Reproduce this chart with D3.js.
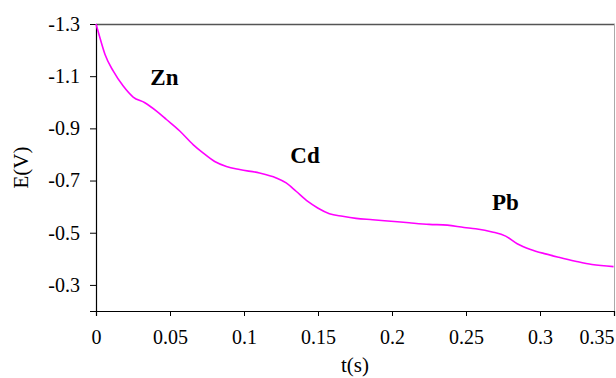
<!DOCTYPE html>
<html>
<head>
<meta charset="utf-8">
<script src="https://cdn.jsdelivr.net/npm/d3@7"></script>
<style>
  body { margin: 0; background: #fff; }
</style>
</head>
<body>
<div id="main"></div>
<script>
// stripping curve
var times = [0, 0.0027, 0.0061, 0.0117, 0.0184, 0.0251, 0.0330, 0.0409, 0.0476, 0.0566,
  0.0656, 0.0723, 0.0802, 0.0881, 0.0970, 0.1105, 0.1218, 0.1285, 0.1352, 0.1431,
  0.1498, 0.1577, 0.1666, 0.1757, 0.1869, 0.1993, 0.2116, 0.2251, 0.2374, 0.2487,
  0.2565, 0.2677, 0.2768, 0.2846, 0.2936, 0.3037, 0.3127, 0.3239, 0.3351, 0.3497];
var potentials = [-1.300, -1.246, -1.183, -1.119, -1.062, -1.020, -0.998, -0.966, -0.934, -0.890,
  -0.838, -0.806, -0.773, -0.754, -0.742, -0.729, -0.710, -0.691, -0.659, -0.620,
  -0.595, -0.573, -0.563, -0.555, -0.550, -0.544, -0.538, -0.532, -0.529, -0.520,
  -0.515, -0.503, -0.487, -0.458, -0.436, -0.419, -0.406, -0.391, -0.378, -0.370];
var xTicks = [0, 0.05, 0.1, 0.15, 0.2, 0.25, 0.3, 0.35];
var yTicks = [-1.3, -1.1, -0.9, -0.7, -0.5, -0.3];
var peakNames = ["Zn", "Cd", "Pb"];
var peakT = [0.0367, 0.1313, 0.2675];
var peakE = [-1.067, -0.768, -0.589];

var serif = "'Liberation Serif'"

var dimensions = {
  width: 616,
  height: 378,
  margin: { top: 24, bottom: 67, right: 1, left: 96 }
}
dimensions.boundedWidth = dimensions.width - dimensions.margin.left - dimensions.margin.right
dimensions.boundedHeight = dimensions.height - dimensions.margin.top - dimensions.margin.bottom

var svg = d3.select("#main")
  .append("svg")
    .attr("width", dimensions.width)
    .attr("height", dimensions.height)

var SVG = svg.append("g")
    .attr("transform", "translate(" + dimensions.margin.left + "," + dimensions.margin.top + ")");

var x = d3.scaleLinear()
  .domain([0, 0.35])
  .range([0, dimensions.boundedWidth - 1]);

// reversed axis: -1.3 at the top
var y = d3.scaleLinear()
  .domain([-1.3, -0.2])
  .range([0, dimensions.boundedHeight]);

// frame: top dark grey, right light grey
SVG.append("line")
  .attr("x1", 0).attr("x2", dimensions.boundedWidth)
  .attr("y1", 0.5).attr("y2", 0.5)
  .attr("stroke", "#555").attr("stroke-width", 1.5)
SVG.append("line")
  .attr("x1", dimensions.boundedWidth - 0.5).attr("x2", dimensions.boundedWidth - 0.5)
  .attr("y1", 0).attr("y2", dimensions.boundedHeight)
  .attr("stroke", "#aaa")

var xAxis = SVG.append("g")
  .attr("transform", "translate(0," + dimensions.boundedHeight + ")")
  .call(d3.axisBottom(x).tickValues(xTicks).tickSize(5).tickPadding(14)
    .tickFormat(function(d){ return String(+d.toFixed(2)); }))

// last label sits inside the edge, like the original
xAxis.selectAll(".tick text")
  .filter(function(d){ return d === 0.35; })
  .attr("text-anchor", "end")

var yAxis = SVG.append("g")
  .call(d3.axisLeft(y).tickValues(yTicks).tickSize(6).tickPadding(10)
    .tickFormat(function(d){ return d.toFixed(1); }))

xAxis.attr("font-family", serif).attr("font-size", 20)
yAxis.attr("font-family", serif).attr("font-size", 20)
SVG.selectAll(".domain").attr("stroke", "#000").attr("stroke-width", 1.2)
SVG.selectAll(".tick line").attr("stroke", "#000")
SVG.selectAll(".tick text").attr("fill", "#000")

var line = d3.line()
  .x(function(d, i){ return x(times[i]); })
  .y(function(d, i){ return y(potentials[i]); })
  .curve(d3.curveMonotoneX)

SVG.append("path")
  .datum(potentials)
  .attr("d", line)
  .attr("fill", "none")
  .attr("stroke", "#ff00ff")
  .attr("stroke-width", 1.6)

SVG.selectAll(".peak")
  .data(peakNames)
  .enter()
  .append("text")
    .attr("class", "peak")
    .attr("x", function(d, i){ return x(peakT[i]); })
    .attr("y", function(d, i){ return y(peakE[i]); })
    .style("font-family", serif)
    .style("font-size", "23px")
    .style("font-weight", "bold")
    .text(function(d){ return d; })

// axis titles
svg.append("text")
  .attr("x", dimensions.margin.left + x(0.175))
  .attr("y", 372)
  .attr("text-anchor", "middle")
  .style("font-family", serif)
  .style("font-size", "21px")
  .text("t(s)")

svg.append("text")
  .attr("transform", "translate(28," + (dimensions.margin.top + dimensions.boundedHeight / 2) + ") rotate(-90)")
  .attr("text-anchor", "middle")
  .style("font-family", serif)
  .style("font-size", "21px")
  .text("E(V)")
</script>
</body>
</html>
